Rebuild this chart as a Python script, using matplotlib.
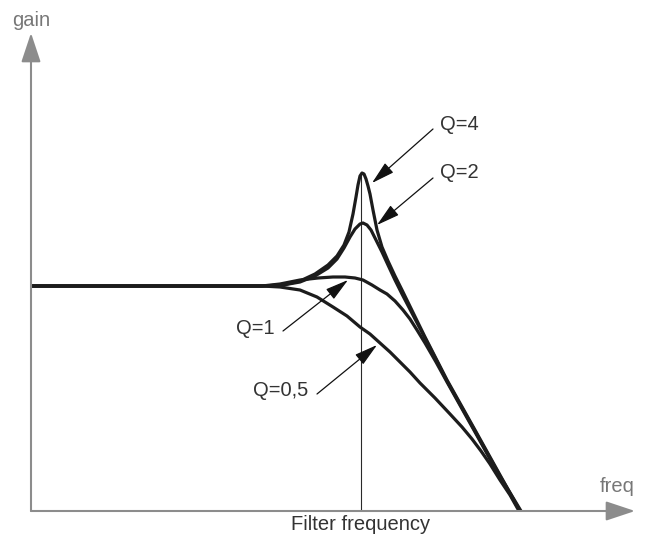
"""
Second-order low-pass filter responses for several Q values,
drawn as a schematic gain/frequency diagram.
"""

import matplotlib.pyplot as plt

# Curves (freq, gain in arbitrary units, origin at the axes)
q4_freq = [0, 231, 252, 269, 284, 297, 306, 313, 318, 322, 325, 327, 329, 331,
           333, 335, 337, 339, 342, 346, 351, 357, 364, 371, 394, 416, 444, 469,
           489]
q4_gain = [225, 225, 226, 230, 237, 246, 255, 266, 279, 297, 314, 326, 335, 338,
           337, 332, 325, 317, 301, 281, 264, 250, 235, 221, 174, 131, 81, 36, 0]

q2_freq = [0, 231, 252, 269, 284, 297, 306, 313, 319, 324, 329, 332, 336, 340,
           345, 351, 357, 364, 371, 394, 416, 444, 469, 490]
q2_gain = [225, 225, 226, 229, 235, 243, 252, 263, 274, 282, 287, 288, 286, 281,
           271, 259, 246, 231, 217, 173, 130, 80, 35, 0]

q1_freq = [0, 231, 249, 269, 287, 302, 314, 324, 332, 341, 349, 356, 364, 372,
           379, 386, 394, 405, 416, 444, 469, 489]
q1_gain = [225, 225, 227, 231, 233, 234, 234, 233, 231, 226, 221, 217, 210, 201,
           192, 181, 168, 149, 129, 79, 34, 0]

q05_freq = [0, 231, 249, 269, 286, 302, 316, 329, 339, 349, 359, 369, 379, 389,
            404, 419, 431, 441, 450, 459, 469, 479, 488]
q05_gain = [225, 225, 224, 221, 214, 204, 195, 184, 177, 168, 159, 149, 139, 128,
            113, 97, 84, 72, 60, 47, 31, 16, 0]

cutoff_freq = 330
cutoff_top = 338

labels = ["Q=4", "Q=2", "Q=1", "Q=0,5"]
label_pos = [(409, 387), (409, 339), (244, 183), (277, 121)]
label_ha = ["left", "left", "right", "right"]
arrow_tail = [(402, 382), (402, 333), (252, 180), (286, 117)]
arrow_tip = [(341, 328), (346, 286), (317, 231), (346, 166)]

AXIS_CLR = "#8c8c8c"
CURVE_CLR = "#1c1c1c"
TEXT_CLR = "#333333"

plt.rcParams["font.family"] = ["Liberation Sans", "DejaVu Sans"]


def _draw_axes(ax):
    """Grey arrowed axes with their names."""
    axis_arrow = dict(
        arrowstyle="-|>,head_length=0.9,head_width=0.3",
        mutation_scale=20,
        color=AXIS_CLR,
        lw=1.5,
        shrinkA=0,
        shrinkB=0,
    )
    ax.annotate("", xy=(1, 0), xytext=(0, 0), xycoords="axes fraction",
                arrowprops=axis_arrow)
    ax.annotate("", xy=(0, 1), xytext=(0, 0), xycoords="axes fraction",
                arrowprops=axis_arrow)
    ax.text(0, 490, "gain", ha="center", va="center", fontsize=14.5,
            color="#777777", clip_on=False)
    ax.text(586, 24, "freq", ha="center", va="center", fontsize=14.5,
            color="#777777", clip_on=False)


def _draw_curves(ax):
    """The four filter responses plus the cutoff marker."""
    ax.plot([cutoff_freq, cutoff_freq], [0, cutoff_top], color="#2a2a2a", lw=0.8)
    ax.text(cutoff_freq, -13, "Filter frequency", ha="center", va="center",
            fontsize=14.5, color=TEXT_CLR, clip_on=False)

    for xs, ys in [(q05_freq, q05_gain), (q1_freq, q1_gain),
                   (q2_freq, q2_gain), (q4_freq, q4_gain)]:
        ax.plot(xs, ys, color=CURVE_CLR, lw=2.3, solid_joinstyle="round",
                solid_capstyle="round")


def _draw_labels(ax):
    """Q labels with arrows pointing at each curve."""
    for text, pos, ha, tail, tip in zip(labels, label_pos, label_ha,
                                        arrow_tail, arrow_tip):
        ax.text(*pos, text, ha=ha, va="center", fontsize=14.5, color=TEXT_CLR)
        ax.annotate(
            "",
            xy=tip,
            xytext=tail,
            arrowprops=dict(
                arrowstyle="-|>,head_length=1.1,head_width=0.3",
                mutation_scale=13,
                color="#111111",
                lw=0.9,
                shrinkA=0,
                shrinkB=0,
            ),
        )


fig = plt.figure(figsize=(6.48, 5.36), dpi=100)
ax = fig.add_axes([31 / 648, 25 / 536, 604 / 648, 478 / 536])
ax.set_xlim(0, 604)
ax.set_ylim(0, 478)
ax.axis("off")

_draw_axes(ax)
_draw_curves(ax)
_draw_labels(ax)

fig.savefig("out.png", dpi=100)
